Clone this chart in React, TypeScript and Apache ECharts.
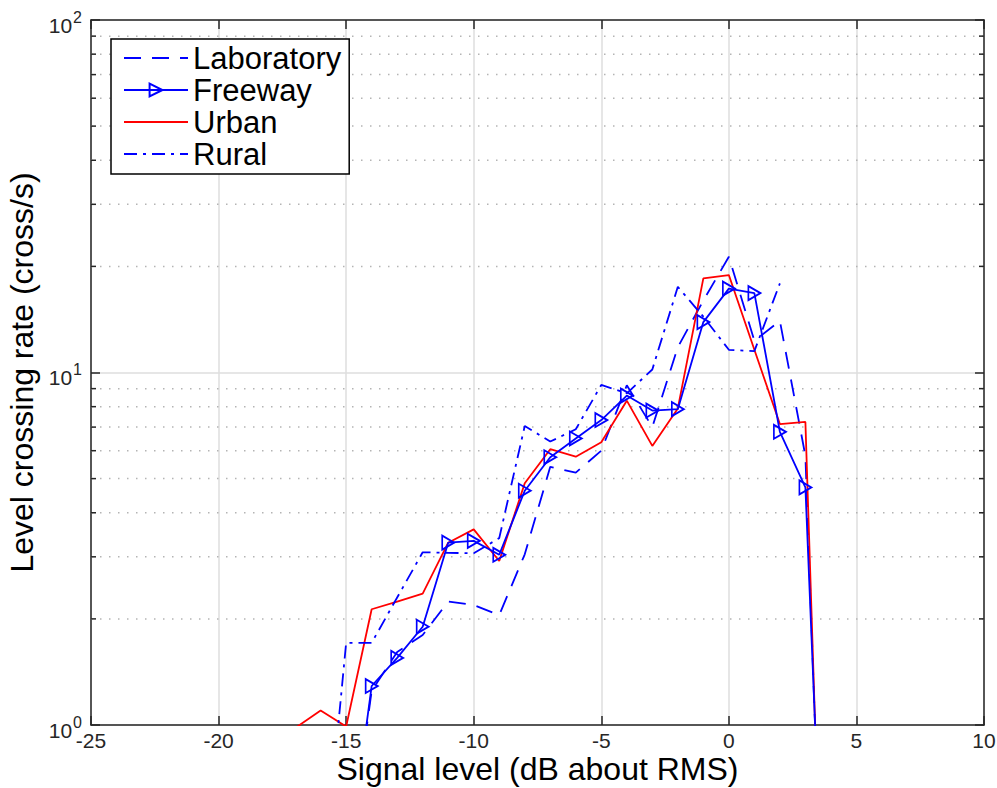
import React, { useEffect, useRef } from "react";
import * as echarts from "echarts";

// ---- data ----
const labX = [-15, -14, -13, -12, -11, -10, -9, -8, -7, -6, -5, -4, -3, -2, -1, 0, 1, 2, 3, 4];
const labY = [0.37, 1.25, 1.61, 1.8, 2.24, 2.19, 2.05, 3.05, 5.4, 5.2, 6.0, 9.2, 7.0, 11.8, 16.0, 21.3, 12.3, 14.0, 5.8, 0.055];

const freewayX = [-15, -14, -13, -12, -11, -10, -9, -8, -7, -6, -5, -4, -3, -2, -1, 0, 1, 2, 3, 4];
const freewayY = [0.37, 1.29, 1.55, 1.9, 3.29, 3.33, 3.04, 4.62, 5.75, 6.5, 7.33, 8.6, 7.8, 7.87, 13.9, 17.3, 16.8, 6.79, 4.72, 0.08];

const urbanX = [-17, -16, -15, -14, -13, -12, -11, -10, -9, -8, -7, -6, -5, -4, -3, -2, -1, 0, 1, 2, 3, 4];
const urbanY = [0.98, 1.1, 0.99, 2.13, 2.24, 2.36, 3.29, 3.59, 2.92, 4.85, 6.06, 5.77, 6.34, 8.32, 6.19, 7.91, 18.5, 18.9, 11.6, 7.14, 7.24, 0.04];

const ruralX = [-16, -15, -14, -13, -12, -11, -10, -9, -8, -7, -6, -5, -4, -3, -2, -1, 0, 1, 2];
const ruralY = [0.3, 1.71, 1.71, 2.3, 3.09, 3.08, 3.07, 3.39, 7.05, 6.37, 6.9, 9.22, 8.73, 10.2, 17.5, 14.4, 11.6, 11.5, 17.9];

const seriesNames = ["Laboratory", "Freeway", "Urban", "Rural"];
const xTicks = [-25, -20, -15, -10, -5, 0, 5, 10];
const minorYValues = [2, 3, 4, 5, 6, 7, 8, 9, 20, 30, 40, 50, 60, 70, 80, 90];

const zip = (xs: number[], ys: number[]) => xs.map((x, i) => [x, ys[i]]);

const FONT = "'Liberation Sans', Arial, Helvetica, sans-serif";
const AXIS = "#262626";
const HIDDEN = { color: "rgba(0,0,0,0)", borderColor: "rgba(0,0,0,0)", borderWidth: 0 };

export default function App() {
  const ref = useRef<HTMLDivElement>(null);

  useEffect(() => {
    if (!ref.current) return;
    const chart = echarts.init(ref.current, undefined, { renderer: "svg" });

    const option: any = {
      animation: false,
      backgroundColor: "#ffffff",
      textStyle: { fontFamily: FONT },
      grid: { left: 91, right: 13, top: 20, bottom: 63, containLabel: false, outerBoundsMode: "none" },
      legend: {
        data: seriesNames.map((n) => (n === "Freeway" ? { name: n } : { name: n, itemStyle: HIDDEN })),
        orient: "vertical",
        left: 111,
        top: 39,
        itemGap: 0,
        itemWidth: 64,
        itemHeight: 16,
        padding: [3, 8, 4, 12],
        backgroundColor: "#ffffff",
        borderColor: "#000000",
        borderWidth: 1.5,
        borderRadius: 0,
        textStyle: { fontSize: 31, lineHeight: 32, color: "#000000", fontFamily: FONT },
      },
      xAxis: [
        {
          type: "value",
          min: xTicks[0],
          max: xTicks[xTicks.length - 1],
          interval: 5,
          position: "bottom",
          name: "Signal level (dB about RMS)",
          nameLocation: "middle",
          nameGap: 28,
          nameMoveOverlap: false,
          nameTextStyle: { fontSize: 32, color: "#000", fontFamily: FONT },
          axisLine: { show: true, onZero: false, lineStyle: { color: AXIS, width: 1.5 } },
          axisTick: { show: true, inside: true, length: 9, lineStyle: { color: AXIS, width: 1.5 } },
          axisLabel: { show: true, margin: 5, fontSize: 21, color: AXIS, fontFamily: FONT },
          splitLine: { show: true, lineStyle: { color: "#dedede", width: 1.5 } },
        },
        {
          type: "value",
          min: xTicks[0],
          max: xTicks[xTicks.length - 1],
          interval: 5,
          position: "top",
          axisLine: { show: true, onZero: false, lineStyle: { color: AXIS, width: 1.5 } },
          axisTick: { show: true, inside: true, length: 9, lineStyle: { color: AXIS, width: 1.5 } },
          axisLabel: { show: false },
          splitLine: { show: false },
        },
      ],
      yAxis: [
        {
          type: "log",
          logBase: 10,
          min: 1,
          max: 100,
          position: "left",
          name: "Level crossing rate (cross/s)",
          nameLocation: "middle",
          nameGap: 44,
          nameTextStyle: { fontSize: 32, color: "#000", fontFamily: FONT },
          axisLine: { show: true, onZero: false, lineStyle: { color: AXIS, width: 1.5 } },
          axisTick: { show: true, inside: true, length: 9, lineStyle: { color: AXIS, width: 1.5 } },
          axisLabel: {
            show: true,
            margin: 9,
            padding: [10, 0, 0, 0],
            formatter: (v: number) => "{b|10}{s|" + Math.round(Math.log10(v)) + "}",
            rich: {
              b: { fontSize: 21, color: AXIS, fontFamily: FONT },
              s: { fontSize: 16, color: AXIS, fontFamily: FONT, padding: [0, 0, 16, 1] },
            },
          },
          splitLine: { show: true, lineStyle: { color: "#dedede", width: 1.5 } },
        },
        {
          type: "log",
          logBase: 10,
          min: 1,
          max: 100,
          position: "right",
          axisLine: { show: true, onZero: false, lineStyle: { color: AXIS, width: 1.5 } },
          axisTick: { show: true, inside: true, length: 9, lineStyle: { color: AXIS, width: 1.5 } },
          axisLabel: { show: false },
          splitLine: { show: false },
        },
      ],
      series: [
        {
          type: "custom",
          name: "minor",
          silent: true,
          z: 1,
          xAxisIndex: 0,
          yAxisIndex: 0,
          encode: { x: 0, y: 1 },
          data: minorYValues.map((v) => [xTicks[0], v]),
          renderItem: (params: any, api: any) => {
            const p = api.coord([api.value(0), api.value(1)]);
            const cs = params.coordSys;
            const y = p[1];
            return {
              type: "group",
              children: [
                {
                  type: "line",
                  shape: { x1: cs.x, y1: y, x2: cs.x + cs.width, y2: y },
                  style: { stroke: "#b4b4b4", lineWidth: 1.5, lineDash: [1.5, 7.5] },
                },
                {
                  type: "line",
                  shape: { x1: cs.x, y1: y, x2: cs.x + 5, y2: y },
                  style: { stroke: AXIS, lineWidth: 1.5 },
                },
                {
                  type: "line",
                  shape: { x1: cs.x + cs.width - 5, y1: y, x2: cs.x + cs.width, y2: y },
                  style: { stroke: AXIS, lineWidth: 1.5 },
                },
              ],
            };
          },
        },
        {
          type: "line",
          name: "Laboratory",
          z: 3,
          data: zip(labX, labY),
          symbol: "none",
          clip: true,
          lineStyle: { color: "#0000ff", width: 1.8, type: [17, 11] },
          itemStyle: { color: "#0000ff" },
        },
        {
          type: "line",
          name: "Freeway",
          z: 4,
          data: zip(freewayX, freewayY),
          symbol: "triangle",
          symbolSize: [14, 12],
          symbolRotate: -90,
          showAllSymbol: true,
          clip: true,
          lineStyle: { color: "#0000ff", width: 1.8 },
          itemStyle: { color: "rgba(255,255,255,0)", borderColor: "#0000ff", borderWidth: 1.8 },
        },
        {
          type: "line",
          name: "Urban",
          z: 3,
          data: zip(urbanX, urbanY),
          symbol: "none",
          clip: true,
          lineStyle: { color: "#ff0000", width: 1.8 },
          itemStyle: { color: "#ff0000" },
        },
        {
          type: "line",
          name: "Rural",
          z: 3,
          data: zip(ruralX, ruralY),
          symbol: "none",
          clip: true,
          lineStyle: { color: "#0000ff", width: 1.8, type: [13, 6, 3, 6] },
          itemStyle: { color: "#0000ff" },
        },
      ],
    };

    chart.setOption(option);
    return () => chart.dispose();
  }, []);

  return (
    <div
      ref={ref}
      style={{ position: "fixed", left: 0, top: 0, width: 997, height: 788, background: "#fff" }}
    />
  );
}
